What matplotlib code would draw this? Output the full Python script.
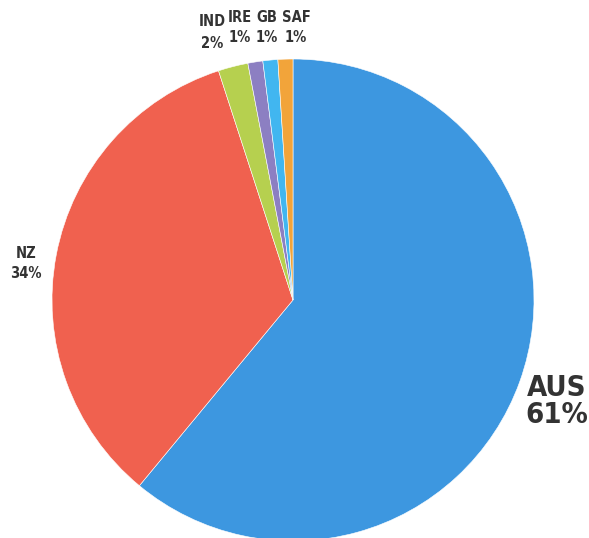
import matplotlib
matplotlib.use("Agg")
import matplotlib.pyplot as plt
from matplotlib import font_manager

categories = ["AUS", "NZ", "IND", "IRE", "GB", "SAF"]
values = [61, 34, 2, 1, 1, 1]
colors = ["#3d97e0", "#f0614f", "#b6d04f", "#8c7fc2", "#41b6f0", "#f2a43a"]

W, H = 589, 538
fig = plt.figure(figsize=(W / 100, H / 100), dpi=100)
fig.patch.set_facecolor("white")

cx, cy, r = 293, 300, 241
ax = fig.add_axes([(cx - r) / W, (H - cy - r) / H, 2 * r / W, 2 * r / H])
ax.pie(values, colors=colors, startangle=90, counterclock=False,
       wedgeprops=dict(linewidth=0.4, edgecolor="white"))
ax.set_xlim(-1, 1)
ax.set_ylim(-1, 1)
ax.set_aspect("equal")
ax.axis("off")

has_cond = any(f.name == "DejaVu Sans" and str(f.stretch) in ("condensed", "semi-condensed")
               for f in font_manager.fontManager.ttflist)
stretch = "condensed" if has_cond else "normal"

def ftext(x, y, s, size):
    fig.text(x / W, 1 - y / H, s, ha="center", va="center", fontsize=size,
             fontweight="bold", color="#333333", family=["DejaVu Sans"],
             fontstretch=stretch)

big = 21 if has_cond else 17
small = 10.5 if has_cond else 9

# big AUS label
ftext(557, 388, "AUS", big)
ftext(557, 415, "61%", big)

# NZ
ftext(26, 253, "NZ", small)
ftext(26, 273, "34%", small)

# small top labels
ftext(212, 21, "IND", small)
ftext(212, 43, "2%", small)
ftext(240, 17, "IRE", small)
ftext(240, 38, "1%", small)
ftext(267, 17, "GB", small)
ftext(267, 38, "1%", small)
ftext(296, 17, "SAF", small)
ftext(296, 38, "1%", small)

fig.savefig("out.png", dpi=100, facecolor="white")
